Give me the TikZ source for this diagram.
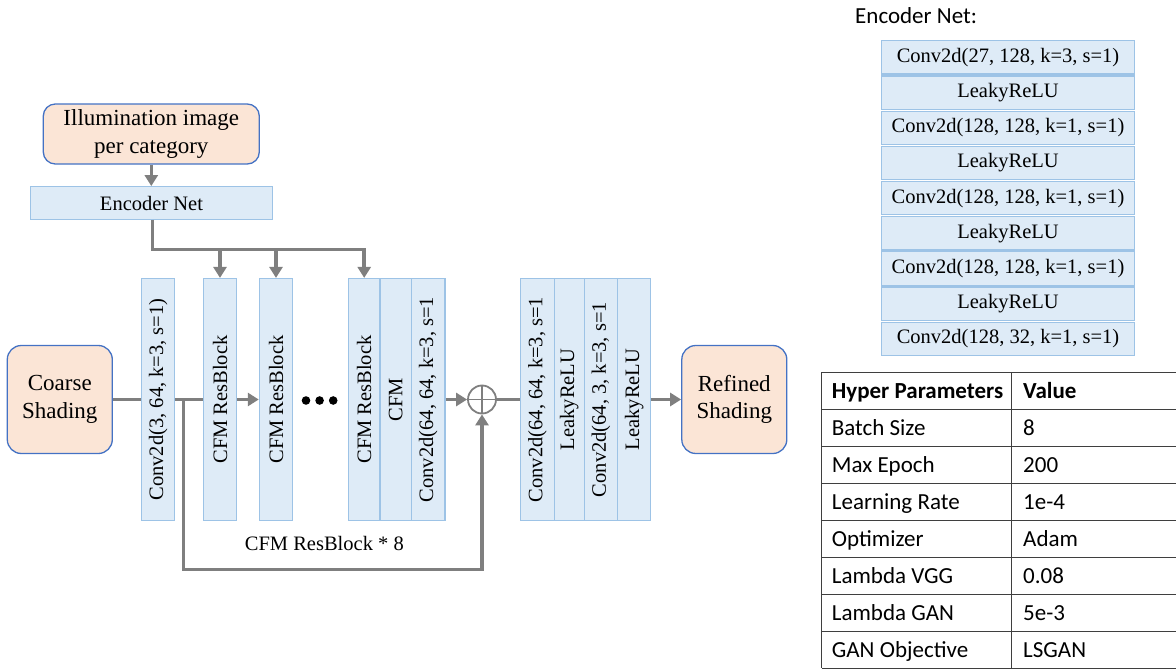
\documentclass[tikz,border=0pt]{standalone}
\usepackage{fontspec}
\setmainfont{Liberation Serif}
\newfontfamily\calibri{Carlito}
\usepackage{graphicx}
\usetikzlibrary{arrows.meta}
\definecolor{peach}{HTML}{FBE5D6}
\definecolor{edgeblue}{HTML}{4472C4}
\definecolor{layerfill}{HTML}{DEEBF7}
\definecolor{layeredge}{HTML}{9DC3E6}
\definecolor{wiregray}{HTML}{7F7F7F}
\definecolor{tabgray}{HTML}{3F3F3F}

\begin{document}
\begin{tikzpicture}[x=1pt,y=-1pt,
  io/.style={draw=edgeblue, fill=peach, line width=1.3pt, rounded corners=14pt,
    align=center, inner sep=0pt, font=\fontsize{23}{27.5}\selectfont},
  layer/.style={draw=layeredge, fill=layerfill, line width=1.2pt, inner sep=0pt,
    font=\fontsize{20.5}{24}\selectfont},
  vlayer/.style={layer, minimum width=#1, minimum height=242},
  wire/.style={draw=wiregray, line width=3.5pt},
  flow/.style={wire, -{Triangle[width=13pt,length=11pt]}},
  tabline/.style={draw=tabgray, line width=1.2pt},
  tabtext/.style={font=\calibri\fontsize{23}{27}\selectfont, anchor=base west, inner sep=0pt},
]
\useasboundingbox (0,0) rectangle (1176,669);

% inputs and outputs
\node[io, minimum width=216, minimum height=60, rounded corners=12pt] (illum) at (151.3,134) {Illumination image\\per category};
\node[io, minimum width=105, minimum height=108] (coarse) at (59.8,399.5) {Coarse\\Shading};
\node[io, minimum width=105, minimum height=108] (refined) at (734.3,399.5) {Refined\\Shading};

% encoder
\node[layer, minimum width=242, minimum height=32.7] (enc) at (151.5,203) {Encoder Net};

% main trunk
\node[vlayer=33] (conv1) at (158.2,399.5) {\rotatebox{90}{Conv2d(3, 64, k=3, s=1)}};
\node[vlayer=33.3] (res1) at (220,399.5) {\rotatebox{90}{CFM ResBlock}};
\node[vlayer=33.3] (res2) at (276,399.5) {\rotatebox{90}{CFM ResBlock}};
\node[vlayer=31.7] (res8) at (364.2,399.5) {\rotatebox{90}{CFM ResBlock}};
\node[vlayer=31.7] (cfm) at (395.8,399.5) {\rotatebox{90}{CFM}};
\node[vlayer=33.3] (conv2) at (428.3,399.5) {\rotatebox{90}{Conv2d(64, 64, k=3, s=1}};
\foreach \x in {306,319.6,333.2} \fill (\x,400.5) circle (4.3);

\node[circle, draw=wiregray, line width=1.8pt, minimum size=28, inner sep=0pt] (plus) at (482,399.5) {};
\draw[wiregray, line width=1.8pt] (plus.north) -- (plus.south) (plus.west) -- (plus.east);

\node[vlayer=33.6] (out1) at (537.5,399.5) {\rotatebox{90}{Conv2d(64, 64, k=3, s=1}};
\node[vlayer=30] (out2) at (569.3,399.5) {\rotatebox{90}{LeakyReLU}};
\node[vlayer=33.4] (out3) at (601,399.5) {\rotatebox{90}{Conv2d(64, 3, k=3, s=1}};
\node[vlayer=33] (out4) at (634.2,399.5) {\rotatebox{90}{LeakyReLU}};

\node[font=\fontsize{20.5}{24}\selectfont, inner sep=0pt] (reps) at (324.3,543) {CFM ResBlock * 8};

% connectors
\draw[flow] (illum.south) -- (illum.south |- enc.north);
\coordinate (bus) at (152.3,249.3);
\draw[flow] (enc.south -| bus) -- (bus) -- (res8.north |- bus) -- (res8.north);
\draw[flow] (res1.north |- bus) -- (res1.north);
\draw[flow] (res2.north |- bus) -- (res2.north);

\draw[wire] (coarse.east) -- (conv1.west);
\draw[wire] (conv1.east) -- (res1.west);
\draw[flow] (res1.east) -- (res2.west);
\draw[flow] (conv2.east) -- (plus.west);
\draw[wire] (plus.east) -- (out1.west);
\draw[flow] (out4.east) -- (refined.west);

\coordinate (split) at (183.3,399.5);
\coordinate (skipbot) at (183.3,569.5);
\draw[flow] (split) -- (skipbot) -| (plus.south);

% encoder net layers
\node[font=\calibri\fontsize{23}{27}\selectfont, anchor=base west, inner sep=0pt] (enclabel) at (855,23.5) {Encoder Net:};
\foreach \t [count=\i from 0] in {{Conv2d(27, 128, k=3, s=1)}, LeakyReLU, {Conv2d(128, 128, k=1, s=1)}, LeakyReLU, {Conv2d(128, 128, k=1, s=1)}, LeakyReLU, {Conv2d(128, 128, k=1, s=1)}, LeakyReLU, {Conv2d(128, 32, k=1, s=1)}}
  \node[layer, minimum width=253.4, minimum height=33.3] (e\i) at (1008,{57.4+35.18*\i}) {\t};

% hyper-parameter table
\foreach \k in {0,...,8} \draw[tabline] (821.7,{372.3+37*\k}) -- (1176,{372.3+37*\k});
\draw[tabline] (821.7,372.3) -- (821.7,668.3);
\draw[tabline] (1011.7,372.3) -- (1011.7,668.3);
\foreach \a/\b [count=\k from 0] in {{\bfseries Hyper Parameters}/{\bfseries Value}, Batch Size/8, Max Epoch/200, Learning Rate/1e-4, Optimizer/Adam, Lambda VGG/0.08, Lambda GAN/5e-3, GAN Objective/LSGAN}{
  \node[tabtext] (ta\k) at (831.7,{372.3+37*\k+25.8}) {\a};
  \node[tabtext] (tb\k) at (1023,{372.3+37*\k+25.8}) {\b};
}
\end{tikzpicture}
\end{document}
